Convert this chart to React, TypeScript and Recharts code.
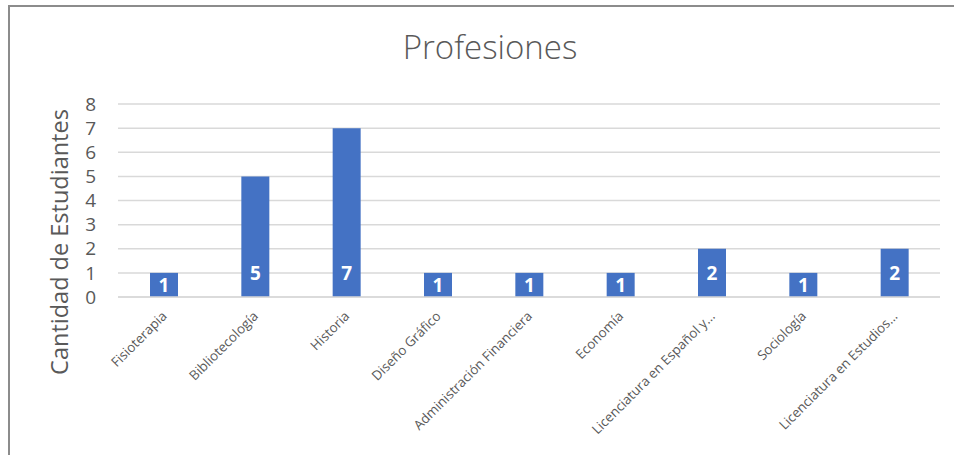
import React from "react";
import {Bar, BarChart, CartesianGrid, LabelList, XAxis, YAxis} from "recharts";

const profesiones = [
    "Fisioterapia",
    "Bibliotecología",
    "Historia",
    "Diseño Gráfico",
    "Administración Financiera",
    "Economía",
    "Licenciatura en Español y...",
    "Sociología",
    "Licenciatura en Estudios...",
];
const estudiantes = [1, 5, 7, 1, 1, 1, 2, 1, 2];
const yTicks = [0, 1, 2, 3, 4, 5, 6, 7, 8];

const data = profesiones.map((nombre, i) => ({nombre, cantidad: estudiantes[i]}));

const FONT = "'Open Sans', sans-serif";
const GREY = "#595959";

const RotatedTick = (props: any) => {
    const {x, y, payload} = props;
    const ax = x + 4;
    const ay = y + 12;
    return <text x={ax} y={ay} transform={`rotate(-45, ${ax}, ${ay})`} textAnchor="end"
                 fontSize={13.3} fill={GREY} fontFamily={FONT}>{payload.value}</text>
};

const BaseLabel = (props: any) => {
    const {x, y, width, height, value} = props;
    const base = y + height;
    const cy = height < 48 ? y + height / 2 : base - 24;
    return <text x={x + width / 2} y={cy} dy="0.36em" textAnchor="middle" fill="#fff"
                 fontWeight="bold" fontSize={19} fontFamily={FONT}>{value}</text>
};

const YTitle = () => <text x={59} y={242} transform="rotate(-90, 59, 242)" textAnchor="middle"
                           dominantBaseline="central" fontSize={23.5} fill={GREY} fontFamily={FONT}>
    Cantidad de Estudiantes
</text>;

export default function App() {
    return <div style={{position: "absolute", left: 0, top: 0, width: 961, height: 455, background: "#fff", overflow: "hidden"}}>
        <div style={{position: "absolute", left: 8, top: 5, width: 944, height: 460, borderTop: "2px solid #8c8c8c", borderLeft: "2px solid #8c8c8c"}}/>
        <div style={{position: "absolute", left: 0, top: 24, width: 980, textAlign: "center", fontFamily: FONT, fontSize: 33, color: GREY, fontWeight: 300}}>
            Profesiones
        </div>
        <div style={{position: "absolute", left: 0, top: 0}}>
            <BarChart width={961} height={455} data={data}
                      margin={{top: 104, right: 21, bottom: 0, left: 0}}>
                <CartesianGrid vertical={false} stroke="#d9d9d9" strokeWidth={1.5}/>
                <XAxis dataKey="nombre" interval={0} height={158} tickLine={false}
                       axisLine={{stroke: "#d9d9d9", strokeWidth: 1.5}} tick={<RotatedTick/>}/>
                <YAxis domain={[0, 8]} ticks={yTicks} width={118} axisLine={false} tickLine={false}
                       tickSize={0} tickMargin={22} interval={0}
                       tick={{fill: GREY, fontSize: 19, fontFamily: FONT}}
                       label={<YTitle/>}/>
                <Bar dataKey="cantidad" fill="#4472C4" barSize={28} isAnimationActive={false}>
                    <LabelList dataKey="cantidad" content={<BaseLabel/>}/>
                </Bar>
            </BarChart>
        </div>
    </div>
}
